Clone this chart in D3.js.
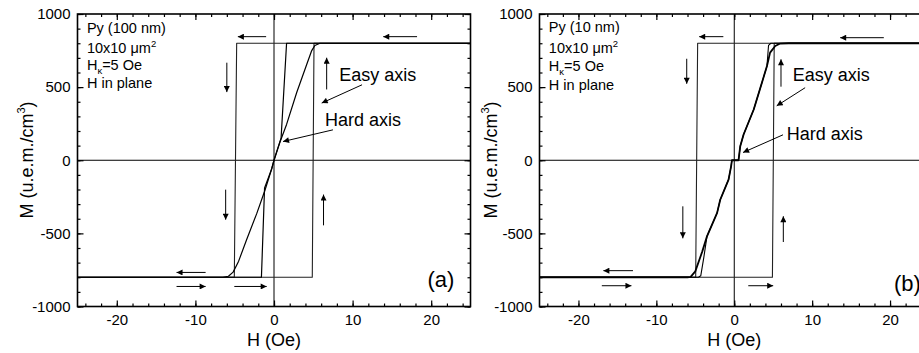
<!DOCTYPE html>
<html>
<head>
<meta charset="utf-8">
<script src="https://cdn.jsdelivr.net/npm/d3@7"></script>
<style>
  body { margin: 0; background: #fff; }
  svg { display: block; font-family: "Liberation Sans", Arial, sans-serif; }
</style>
</head>
<body>
<div id="chart"></div>
<script>
// axis ticks
const hTicks = [-20, -10, 0, 10, 20];
const mTicks = [-1000, -500, 0, 500, 1000];

// (a) Py 100 nm : easy axis square loop
const easyA_desc = [[25, 800], [-4.75, 800], [-5.05, -800], [-25, -800]];
const easyA_asc = [[-25, -800], [4.87, -800], [5.09, 800], [25, 800]];
// (a) hard axis branches
const hardA_desc = [[25, 800], [1.6, 800], [0.9, 150], [0.5, 85], [0, 0], [-0.3, -60], [-1.15, -205], [-2.2, -365], [-3.5, -545], [-4.5, -690], [-5.2, -765], [-5.8, -793], [-6.5, -800], [-25, -800]];
const hardA_asc = [[-25, -800], [-1.6, -800], [-1.2, -190], [-0.3, -60], [0, 0], [0.76, 125], [1.6, 245], [2.9, 465], [4.16, 655], [4.8, 750], [5.2, 785], [5.85, 800], [25, 800]];

// (b) Py 10 nm
const easyB_desc = [[25, 800], [-4.7, 800], [-4.95, -800], [-25, -800]];
const easyB_asc = [[-25, -800], [4.9, -800], [5.13, 800], [25, 800]];
const hardB_asc = [[-25, -800], [-6, -800], [-5.6, -797], [-5.0, -760], [-4.1, -623], [-3.5, -520], [-2.2, -360], [-1.8, -270], [-0.73, -132], [-0.4, -40], [-0.3, 0], [0.55, 0], [0.77, 96], [1.2, 176], [2.5, 347], [4.2, 644], [4.6, 736], [5.26, 781], [5.9, 798], [7, 800], [25, 800]];
const hardB_desc = [[25, 800], [4.7, 800], [4.4, 785], [4.2, 644], [2.5, 347], [1.2, 176], [0.77, 96], [0.55, 0], [-0.3, 0], [-0.4, -40], [-0.73, -132], [-1.8, -270], [-2.2, -360], [-3.5, -520], [-3.9, -662], [-4.3, -790], [-4.6, -800], [-25, -800]];

// field direction arrows [x1, y1, x2, y2] in data units
const arrowsA = [[-1.0, 845, -4.6, 845], [18.2, 845, 13.9, 845], [-6.0, 667, -6.0, 466], [6.7, 484, 6.7, 701],
  [-6.15, -201, -6.15, -406], [6.3, -445, 6.3, -235], [-8.7, -767, -12.4, -767], [-12.4, -863, -8.7, -863], [-5.05, -863, -0.93, -863]];
const arrowsB = [[-1.4, 845, -4.5, 845], [19.2, 838, 13.6, 838], [-6.1, 694, -6.1, 523], [6.0, 503, 6.0, 690],
  [-6.6, -315, -6.6, -534], [6.3, -559, 6.3, -383], [-13.0, -755, -16.8, -755], [-17.0, -858, -13.2, -858], [1.8, -858, 5.0, -858]];

// labels of curves: [text, x, y, leaderX1, leaderY1, leaderX2, leaderY2]
const labelsA = [["Easy axis", 8.3, 543, 11.2, 516, 6.07, 391], ["Hard axis", 6.5, 231, 7.5, 208, 1.15, 128]];
const labelsB = [["Easy axis", 7.5, 539, 9.1, 496, 5.45, 372], ["Hard axis", 6.74, 140, 6.26, 174, 1.13, 53]];

const width = 919, height = 353;
const svg = d3.select('#chart').append('svg').attr('width', width).attr('height', height);

const defs = svg.append('defs');
defs.append('marker')
  .attr('id', 'head')
  .attr('markerUnits', 'userSpaceOnUse')
  .attr('viewBox', '0 0 10 10')
  .attr('refX', 10).attr('refY', 5)
  .attr('markerWidth', 7).attr('markerHeight', 6)
  .attr('orient', 'auto')
  .append('path').attr('d', 'M0,0 L10,5 L0,10 Z').attr('fill', '#000');

const plain = d => String(d);

function drawPanel(cfg) {
  const x = d3.scaleLinear().domain([-25, 25]).range([cfg.left, cfg.right]);
  const y = d3.scaleLinear().domain([-1000, 1000]).range([306.5, 14]);
  const g = svg.append('g');

  // zero lines
  g.append('line').attr('x1', cfg.left).attr('x2', cfg.right).attr('y1', y(0)).attr('y2', y(0))
    .attr('stroke', '#000').attr('stroke-width', 1);
  g.append('line').attr('x1', x(0)).attr('x2', x(0)).attr('y1', 14).attr('y2', 306.5)
    .attr('stroke', '#000').attr('stroke-width', 1);

  const line = d3.line().x(d => x(d[0])).y(d => y(d[1]));
  cfg.curves.forEach(c => {
    g.append('path').datum(c.data).attr('d', line)
      .attr('fill', 'none').attr('stroke', c.color || '#000').attr('stroke-width', c.w)
      .attr('stroke-linejoin', 'round');
  });

  // axes
  const minorH = d3.range(-24, 25, 2);
  const minorM = d3.range(-1000, 1001, 100);
  const axes = [
    [d3.axisBottom(x).tickValues(hTicks).tickSize(-6).tickPadding(8).tickFormat(plain), `translate(0,306.5)`],
    [d3.axisBottom(x).tickValues(minorH).tickSize(-3).tickFormat(''), `translate(0,306.5)`],
    [d3.axisTop(x).tickValues(hTicks).tickSize(-6).tickFormat(''), `translate(0,14)`],
    [d3.axisTop(x).tickValues(minorH).tickSize(-3).tickFormat(''), `translate(0,14)`],
    [d3.axisLeft(y).tickValues(mTicks).tickSize(-6).tickPadding(7).tickFormat(plain), `translate(${cfg.left},0)`],
    [d3.axisLeft(y).tickValues(minorM).tickSize(-3).tickFormat(''), `translate(${cfg.left},0)`],
    [d3.axisRight(y).tickValues(mTicks).tickSize(-6).tickFormat(''), `translate(${cfg.right},0)`],
    [d3.axisRight(y).tickValues(minorM).tickSize(-3).tickFormat(''), `translate(${cfg.right},0)`]
  ];
  axes.forEach(a => {
    const ag = g.append('g').attr('transform', a[1]).call(a[0].tickSizeOuter(0));
    ag.select('.domain').remove();
    ag.selectAll('line').attr('stroke', '#000').attr('stroke-width', 1.2);
    ag.selectAll('text').attr('font-size', 15).attr('fill', '#000')
      .attr('font-family', '"Liberation Sans", Arial, sans-serif');
  });

  g.append('rect').attr('x', cfg.left).attr('y', 14)
    .attr('width', cfg.right - cfg.left).attr('height', 306.5 - 14)
    .attr('fill', 'none').attr('stroke', '#000').attr('stroke-width', 1.6);

  // axis titles
  g.append('text').attr('x', x(0)).attr('y', 346).attr('text-anchor', 'middle')
    .attr('font-size', 18).text('H (Oe)');
  const yt = g.append('text').attr('transform', `translate(${cfg.ylabX},160) rotate(-90)`)
    .attr('text-anchor', 'middle').attr('font-size', 18);
  yt.append('tspan').text('M (u.e.m./cm');
  yt.append('tspan').attr('font-size', 11).attr('dy', -8).text('3');
  yt.append('tspan').attr('dy', 8).text(')');

  // info block
  const info = g.append('g').attr('font-size', 14.5);
  const bx = x(-23.8);
  info.append('text').attr('x', bx).attr('y', cfg.infoY[0]).text(cfg.title);
  const t2 = info.append('text').attr('x', bx).attr('y', cfg.infoY[1]);
  t2.append('tspan').text('10x10 \u03bcm');
  t2.append('tspan').attr('font-size', 9.5).attr('dy', -6).text('2');
  const t3 = info.append('text').attr('x', bx).attr('y', cfg.infoY[2]);
  t3.append('tspan').text('H');
  t3.append('tspan').attr('font-size', 9.5).attr('dy', 4).text('\u03ba');
  t3.append('tspan').attr('dy', -4).text('=5 Oe');
  info.append('text').attr('x', bx).attr('y', cfg.infoY[3]).text('H in plane');

  // direction arrows
  g.selectAll('.dir').data(cfg.arrows).enter().append('line')
    .attr('class', 'dir')
    .attr('x1', d => x(d[0])).attr('y1', d => y(d[1]))
    .attr('x2', d => x(d[2])).attr('y2', d => y(d[3]))
    .attr('stroke', '#000').attr('stroke-width', 1)
    .attr('marker-end', 'url(#head)');

  // curve labels with leaders
  cfg.labels.forEach(l => {
    g.append('text').attr('x', x(l[1])).attr('y', y(l[2])).attr('font-size', 18).text(l[0]);
    g.append('line').attr('x1', x(l[3])).attr('y1', y(l[4])).attr('x2', x(l[5])).attr('y2', y(l[6]))
      .attr('stroke', '#000').attr('stroke-width', 1).attr('marker-end', 'url(#head)');
  });

  g.append('text').attr('x', cfg.tagX).attr('y', cfg.tagY).attr('font-size', 22).text(cfg.tag);
}

drawPanel({
  left: 77.5, right: 470.5, ylabX: 33, title: 'Py (100 nm)', infoY: [33, 53, 70, 88],
  curves: [
    { data: easyA_desc, w: 1.1, color: '#222' }, { data: easyA_asc, w: 1.1, color: '#222' },
    { data: hardA_desc, w: 1.2 }, { data: hardA_asc, w: 1.2 }
  ],
  arrows: arrowsA, labels: labelsA, tag: '(a)', tagX: 427.5, tagY: 286.5
});
drawPanel({
  left: 539.5, right: 929, ylabX: 497, title: 'Py (10 nm)', infoY: [32, 53, 71, 90],
  curves: [
    { data: easyB_desc, w: 1.1, color: '#222' }, { data: easyB_asc, w: 1.1, color: '#222' },
    { data: hardB_desc, w: 1.1 }, { data: hardB_asc, w: 1.8 }
  ],
  arrows: arrowsB, labels: labelsB, tag: '(b)', tagX: 894, tagY: 291
});
</script>
</body>
</html>
